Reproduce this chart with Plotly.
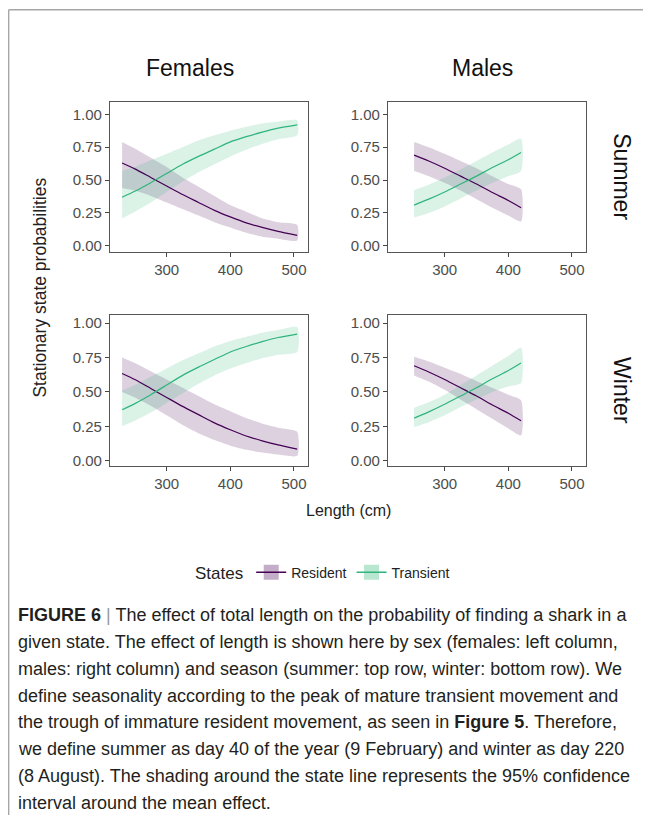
import plotly.graph_objects as go

# ---------------- data ----------------
F_X = [230, 250, 275, 300, 325, 350, 375, 400, 425, 450, 475, 505]
M_X = [252, 275, 300, 325, 350, 375, 400, 420]

# Females, summer
fs_res = [0.63, 0.585, 0.52, 0.455, 0.39, 0.33, 0.27, 0.22, 0.175, 0.14, 0.11, 0.08]
fs_res_hi = [0.79, 0.74, 0.67, 0.60, 0.52, 0.45, 0.38, 0.31, 0.26, 0.21, 0.18, 0.16]
fs_res_lo = [0.44, 0.42, 0.38, 0.33, 0.28, 0.23, 0.18, 0.14, 0.10, 0.07, 0.055, 0.04]
fs_tra = [0.37, 0.415, 0.48, 0.55, 0.62, 0.68, 0.735, 0.79, 0.83, 0.865, 0.895, 0.92]
fs_tra_hi = [0.57, 0.60, 0.65, 0.70, 0.75, 0.80, 0.84, 0.875, 0.905, 0.93, 0.945, 0.955]
fs_tra_lo = [0.21, 0.26, 0.33, 0.41, 0.49, 0.56, 0.62, 0.68, 0.73, 0.775, 0.81, 0.84]

# Females, winter
fw_res = [0.634, 0.59, 0.525, 0.46, 0.395, 0.335, 0.275, 0.225, 0.18, 0.145, 0.115, 0.084]
fw_res_hi = [0.75, 0.71, 0.65, 0.59, 0.53, 0.47, 0.41, 0.36, 0.31, 0.27, 0.24, 0.21]
fw_res_lo = [0.50, 0.46, 0.40, 0.33, 0.26, 0.20, 0.15, 0.11, 0.08, 0.06, 0.045, 0.036]
fw_tra = [0.37, 0.415, 0.48, 0.55, 0.62, 0.68, 0.735, 0.79, 0.83, 0.865, 0.895, 0.92]
fw_tra_hi = [0.51, 0.55, 0.61, 0.67, 0.73, 0.78, 0.83, 0.87, 0.90, 0.93, 0.95, 0.97]
fw_tra_lo = [0.25, 0.29, 0.35, 0.42, 0.49, 0.56, 0.62, 0.67, 0.71, 0.745, 0.77, 0.79]

# Males, summer
ms_res = [0.69, 0.645, 0.59, 0.53, 0.47, 0.405, 0.345, 0.29]
ms_res_hi = [0.79, 0.75, 0.70, 0.645, 0.59, 0.53, 0.47, 0.43]
ms_res_lo = [0.57, 0.53, 0.48, 0.42, 0.355, 0.29, 0.23, 0.185]
ms_tra = [0.31, 0.355, 0.41, 0.47, 0.53, 0.595, 0.655, 0.71]
ms_tra_hi = [0.425, 0.465, 0.52, 0.58, 0.645, 0.71, 0.77, 0.815]
ms_tra_lo = [0.215, 0.25, 0.30, 0.36, 0.42, 0.48, 0.53, 0.57]

# Males, winter
mw_res = [0.69, 0.645, 0.59, 0.53, 0.47, 0.405, 0.345, 0.29]
mw_res_hi = [0.755, 0.72, 0.675, 0.63, 0.58, 0.53, 0.48, 0.44]
mw_res_lo = [0.62, 0.575, 0.515, 0.445, 0.375, 0.305, 0.235, 0.185]
mw_tra = [0.31, 0.355, 0.41, 0.47, 0.53, 0.595, 0.655, 0.71]
mw_tra_hi = [0.385, 0.425, 0.48, 0.55, 0.62, 0.69, 0.76, 0.82]
mw_tra_lo = [0.245, 0.28, 0.33, 0.39, 0.445, 0.50, 0.54, 0.565]

X_TICKS = [300, 400, 500]
Y_TICKS = [0, 0.25, 0.5, 0.75, 1.0]
STATES = ["Resident", "Transient"]
COLS = ["Females", "Males"]
ROWS = ["Summer", "Winter"]

CAPTION = [
    "<b>FIGURE 6</b> <span style='color:#999999'>|</span> The effect of total length on the probability of finding a shark in a",
    "given state. The effect of length is shown here by sex (females: left column,",
    "males: right column) and season (summer: top row, winter: bottom row). We",
    "define seasonality according to the peak of mature transient movement and",
    "the trough of immature resident movement, as seen in <b>Figure 5</b>. Therefore,",
    "we define summer as day 40 of the year (9 February) and winter as day 220",
    "(8 August). The shading around the state line represents the 95% confidence",
    "interval around the mean effect.",
]

# ---------------- styling ----------------
PAGE_W, PAGE_H = 651, 826
OFF = 8  # browser body margin
W, H = PAGE_W - 2 * OFF, PAGE_H - 2 * OFF
LINE_COL = {"Resident": "#440154", "Transient": "#2FB47C"}
FILL_COL = {"Resident": "rgba(68,1,84,0.18)", "Transient": "rgba(53,183,121,0.18)"}
LEG_COL = {"Resident": "rgba(68,1,84,0.32)", "Transient": "rgba(53,183,121,0.35)"}
FONT = "Liberation Sans, Arial, Helvetica, sans-serif"


def fx(px):
    # page pixel -> paper fraction
    return (px - OFF) / W


def fy(py):
    return 1 - (py - OFF) / H


panels = {
    ("Summer", "Females"): (F_X, fs_res, fs_res_lo, fs_res_hi, fs_tra, fs_tra_lo, fs_tra_hi),
    ("Summer", "Males"): (M_X, ms_res, ms_res_lo, ms_res_hi, ms_tra, ms_tra_lo, ms_tra_hi),
    ("Winter", "Females"): (F_X, fw_res, fw_res_lo, fw_res_hi, fw_tra, fw_tra_lo, fw_tra_hi),
    ("Winter", "Males"): (M_X, mw_res, mw_res_lo, mw_res_hi, mw_tra, mw_tra_lo, mw_tra_hi),
}

x_dom = {"Females": (110, 308), "Males": (388, 586)}
y_dom = {"Summer": (101, 252), "Winter": (316, 467)}
y_rng = {"Summer": [-0.045, 1.097], "Winter": [-0.036, 1.055]}

fig = go.Figure()
layout = dict(
    width=W, height=H,
    margin=dict(l=0, r=0, t=0, b=0),
    paper_bgcolor="white", plot_bgcolor="white",
    font=dict(family=FONT, color="#222222"),
    showlegend=True,
)

k = 0
for r in ROWS:
    for c in COLS:
        k += 1
        xa = "x" if k == 1 else f"x{k}"
        ya = "y" if k == 1 else f"y{k}"
        xs, rm, rlo, rhi, tm, tlo, thi = panels[(r, c)]
        for state, m, lo, hi in (("Resident", rm, rlo, rhi), ("Transient", tm, tlo, thi)):
            fig.add_trace(go.Scatter(
                x=list(xs) + list(xs)[::-1], y=list(hi) + list(lo)[::-1],
                fill="toself", fillcolor=FILL_COL[state], mode="lines",
                line=dict(width=0, shape="spline", smoothing=0.6),
                hoverinfo="skip", showlegend=False, xaxis=xa, yaxis=ya))
        for state, m in (("Resident", rm), ("Transient", tm)):
            fig.add_trace(go.Scatter(
                x=xs, y=m, mode="lines",
                line=dict(color=LINE_COL[state], width=1.2, shape="spline", smoothing=0.6),
                showlegend=False, name=state, xaxis=xa, yaxis=ya))
        xd = x_dom[c]
        yd = y_dom[r]
        axcommon = dict(showgrid=False, zeroline=False, showline=True, mirror=True,
                        linecolor="#555555", linewidth=1.2, ticks="outside", ticklen=4,
                        tickwidth=1, tickcolor="#444444",
                        tickfont=dict(size=15, color="#4d4d4d", family=FONT))
        layout["xaxis" if k == 1 else f"xaxis{k}"] = dict(
            domain=[fx(xd[0]), fx(xd[1])], range=[211, 522], tickvals=X_TICKS,
            anchor=ya, **axcommon)
        layout["yaxis" if k == 1 else f"yaxis{k}"] = dict(
            domain=[fy(yd[1]), fy(yd[0])], range=y_rng[r], tickvals=Y_TICKS,
            tickformat=".2f", anchor=xa, **axcommon)

# legend entries
for state in STATES:
    fig.add_trace(go.Scatter(
        x=[None], y=[None], mode="lines+markers", name=state,
        line=dict(color=LINE_COL[state], width=1.5),
        marker=dict(symbol="square", size=15, color=LEG_COL[state], line=dict(width=0)),
        showlegend=True))

layout["legend"] = dict(
    orientation="h", x=fx(324), xanchor="center", y=fy(575), yanchor="middle",
    title=dict(text="States", font=dict(size=17, color="#222222", family=FONT)),
    font=dict(size=14, color="#222222", family=FONT),
    itemwidth=30, bgcolor="rgba(0,0,0,0)",
)

ann = []
ann.append(dict(text="Females", x=fx(190), y=fy(67), xref="paper", yref="paper",
                showarrow=False, font=dict(size=23, color="#111111"), xanchor="center", yanchor="middle"))
ann.append(dict(text="Males", x=fx(482), y=fy(67), xref="paper", yref="paper",
                showarrow=False, font=dict(size=23, color="#111111"), xanchor="center", yanchor="middle"))
ann.append(dict(text="Summer", x=fx(622), y=fy(176), xref="paper", yref="paper", textangle=90,
                showarrow=False, font=dict(size=23, color="#111111"), xanchor="center", yanchor="middle"))
ann.append(dict(text="Winter", x=fx(622), y=fy(391), xref="paper", yref="paper", textangle=90,
                showarrow=False, font=dict(size=23, color="#111111"), xanchor="center", yanchor="middle"))
ann.append(dict(text="Stationary state probabilities", x=fx(40), y=fy(288), xref="paper", yref="paper",
                textangle=-90, showarrow=False, font=dict(size=17.5, color="#222222"),
                xanchor="center", yanchor="middle"))
ann.append(dict(text="Length (cm)", x=fx(348), y=fy(512), xref="paper", yref="paper",
                showarrow=False, font=dict(size=16, color="#222222"), xanchor="center", yanchor="middle"))

CAP_FONT = "Liberation Sans Narrow, Arial Narrow, Liberation Sans, Arial, sans-serif"
for i, line in enumerate(CAPTION):
    ann.append(dict(text=line, x=fx(16), y=fy(617 + i * 27.0), xref="paper", yref="paper",
                    showarrow=False, xanchor="left", yanchor="middle", align="left",
                    font=dict(size=18.0, color="#231f20", family=CAP_FONT)))
layout["annotations"] = ann

layout["shapes"] = [
    dict(type="line", xref="paper", yref="paper", x0=0.001, x1=1.0, y0=0.999, y1=0.999,
         line=dict(color="#a6a6a6", width=1.5)),
    dict(type="line", xref="paper", yref="paper", x0=0.001, x1=0.001, y0=0.999, y1=0,
         line=dict(color="#a6a6a6", width=1.5)),
]

fig.update_layout(**layout)
fig.write_html("out.html")
